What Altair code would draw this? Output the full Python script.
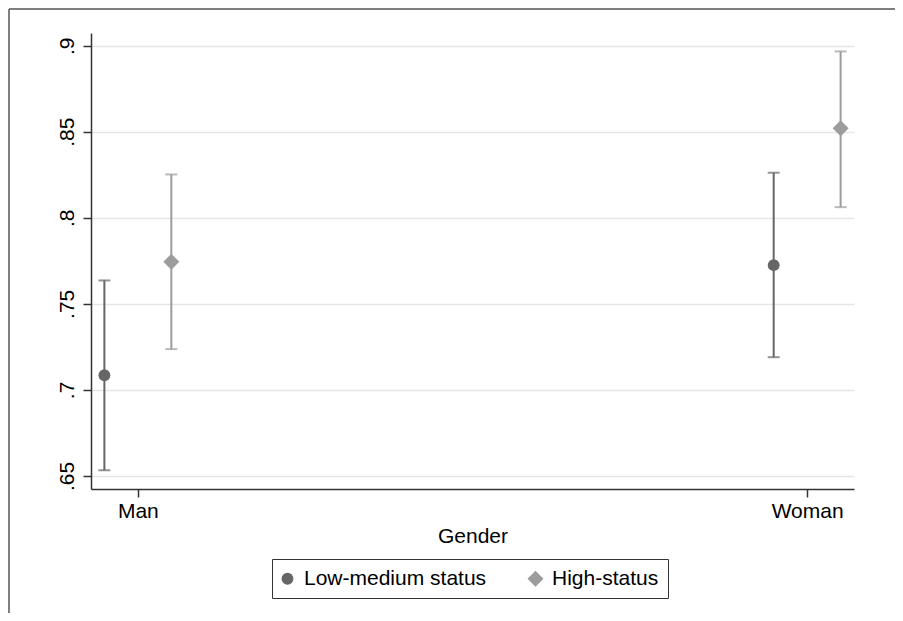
import altair as alt
import pandas as pd

genders = ["Man", "Woman"]
statuses = ["Low-medium status", "High-status"]
offsets = [-0.05, 0.05]

low_est = [0.7085, 0.7725]
low_lo = [0.6533, 0.7190]
low_hi = [0.7636, 0.8262]
high_est = [0.7744, 0.8520]
high_lo = [0.7237, 0.8062]
high_hi = [0.8252, 0.8967]

y_ticks = [0.65, 0.7, 0.75, 0.8, 0.85, 0.9]

rows = []
for gi, g in enumerate(genders):
    rows.append({"gender": g, "status": statuses[0], "xpos": gi + offsets[0],
                 "est": low_est[gi], "lo": low_lo[gi], "hi": low_hi[gi]})
    rows.append({"gender": g, "status": statuses[1], "xpos": gi + offsets[1],
                 "est": high_est[gi], "lo": high_lo[gi], "hi": high_hi[gi]})
df = pd.DataFrame(rows)

FONT = "Liberation Sans"
colors = ["#666666", "#9c9c9c"]

xenc = alt.X("xpos:Q",
             scale=alt.Scale(domain=[-0.07, 1.07], nice=False, zero=False),
             axis=alt.Axis(values=[0, 1],
                           labelExpr="datum.value < 0.5 ? '%s' : '%s'" % (genders[0], genders[1]),
                           title="Gender", grid=False, tickSize=8, labelPadding=3,
                           titlePadding=4))
yscale = alt.Scale(domain=[0.6424, 0.9074], nice=False, zero=False)
yaxis = alt.Axis(values=y_ticks, labelExpr="substring(toString(datum.value), 1)",
                 title=None, labelAngle=270, labelAlign="center",
                 labelBaseline="alphabetic", labelPadding=10, tickSize=8,
                 grid=True)

base = alt.Chart(df)

layers = []
for i, s in enumerate(statuses):
    sub = base.transform_filter(alt.datum.status == s)
    layers.append(sub.mark_rule(strokeWidth=2, color=colors[i]).encode(
        x=xenc, y=alt.Y("lo:Q", scale=yscale, axis=yaxis), y2="hi:Q"))
    layers.append(sub.mark_tick(orient="horizontal", size=12, thickness=2, color=colors[i]).encode(
        x="xpos:Q", y="hi:Q"))
    layers.append(sub.mark_tick(orient="horizontal", size=12, thickness=2, color=colors[i]).encode(
        x="xpos:Q", y="lo:Q"))

points = base.mark_point(filled=True, opacity=1).encode(
    x="xpos:Q",
    y=alt.Y("est:Q"),
    color=alt.Color("status:N", scale=alt.Scale(domain=statuses, range=colors), title=None),
    shape=alt.Shape("status:N", scale=alt.Scale(domain=statuses, range=["circle", "diamond"]), title=None),
    size=alt.Size("status:N", scale=alt.Scale(domain=statuses, range=[140, 256]), title=None),
)

frame_left = alt.Chart(pd.DataFrame({"k": [0]})).mark_rule(color="#555555", strokeWidth=1.5).encode(
    x=alt.value(-82), y=alt.value(-24), y2=alt.value(580))
frame_top = alt.Chart(pd.DataFrame({"k": [0]})).mark_rule(color="#555555", strokeWidth=1.5).encode(
    x=alt.value(-82), x2=alt.value(804), y=alt.value(-24))

chart = alt.layer(frame_left, frame_top, *layers, points).properties(
    width=763, height=456,
    autosize=alt.AutoSizeParams(type="none"),
    padding={"left": 83, "top": 25, "right": 41, "bottom": 124},
).configure_view(stroke=None).configure_axis(
    labelFont=FONT, titleFont=FONT, labelFontSize=21, titleFontSize=21,
    labelColor="#000000", titleColor="#000000", titleFontWeight="normal",
    domainColor="#333333", domainWidth=1.5, tickColor="#333333", tickWidth=1.5,
    gridColor="#e6e6e6", gridWidth=1.5,
).configure_legend(
    orient="none", legendX=181, legendY=526, direction="horizontal",
    strokeColor="#333333", padding=9, labelFont=FONT, labelFontSize=21,
    labelColor="#000000", columnPadding=40, labelOffset=6, symbolOffset=-4,
    symbolStrokeWidth=0, symbolOpacity=1, labelLimit=400,
)

chart.save("out.html", embed_options={"renderer": "svg", "actions": False})
